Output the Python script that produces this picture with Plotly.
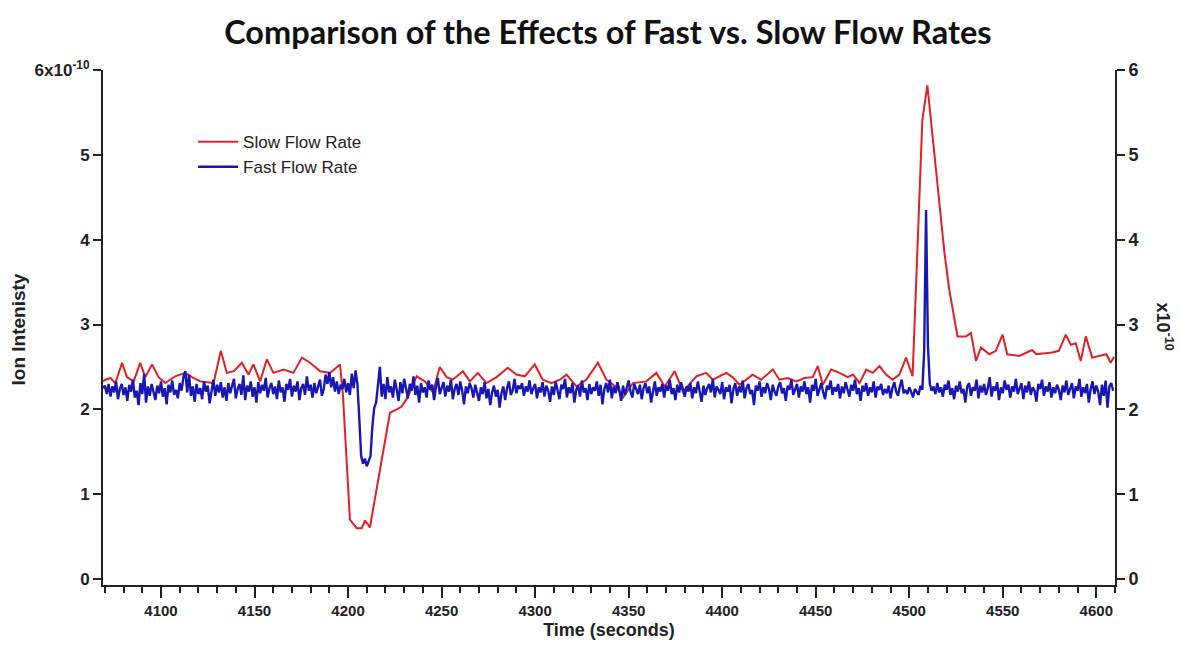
import numpy as np
import plotly.graph_objects as go

# ---------------- data ----------------
slow_time = [4069, 4070.3, 4073, 4075.6, 4079.2, 4081.8, 4085.4, 4088.9, 4091.6, 4095.2,
             4098.7, 4102.3, 4107.6, 4113, 4116.6, 4121, 4128.1, 4132, 4135.2, 4139,
             4143.2, 4146.8, 4149.4, 4153, 4156.6, 4160.1, 4165.5, 4170.8, 4175.3, 4179.7,
             4185.1, 4190.4, 4195.7, 4197.3, 4201, 4204.6, 4207.3, 4209.1, 4211.7, 4217.1,
             4222.4, 4226, 4228.5, 4231.3, 4236.7, 4241.1, 4245.4, 4249, 4252.7, 4256,
             4261.4, 4265.1, 4269.4, 4274, 4279.4, 4285.4, 4290, 4294.5, 4299.8, 4304.1,
             4308.8, 4313.2, 4316.8, 4322.1, 4327.4, 4333.6, 4338.1, 4343.5, 4347, 4352.3,
             4359.5, 4364.8, 4369.3, 4374.6, 4379, 4386.2, 4391.5, 4394.9, 4402.2, 4405.5,
             4409.3, 4416.2, 4420.9, 4427.1, 4430.6, 4435, 4439.6, 4444, 4448.4, 4451.1,
             4453.8, 4458.3, 4462.7, 4467.1, 4470, 4473.4, 4477, 4480.5, 4484.1, 4487.6,
             4491.1, 4494.7, 4498.3, 4501.8, 4504.5, 4507, 4509.7, 4513.4, 4516, 4518.8,
             4521.4, 4524, 4525.8, 4530.3, 4533, 4535.7, 4538.3, 4542.8, 4546.3, 4549.9,
             4552.4, 4558.8, 4565.7, 4568, 4576.4, 4580, 4583.7, 4586.4, 4589, 4591.7,
             4594.4, 4597.8, 4605.4, 4607.7, 4609.5]
slow_flow = [2.33, 2.35, 2.37, 2.31, 2.55, 2.38, 2.33, 2.55, 2.38, 2.53,
             2.38, 2.31, 2.39, 2.43, 2.38, 2.33, 2.31, 2.69, 2.43, 2.45,
             2.55, 2.41, 2.53, 2.33, 2.59, 2.43, 2.47, 2.43, 2.61, 2.55,
             2.45, 2.43, 2.53, 2.16, 0.70, 0.60, 0.60, 0.69, 0.61, 1.29,
             1.96, 2.00, 2.03, 2.12, 2.39, 2.33, 2.20, 2.50, 2.38, 2.35,
             2.45, 2.33, 2.43, 2.31, 2.38, 2.49, 2.41, 2.39, 2.53, 2.35,
             2.31, 2.35, 2.41, 2.27, 2.35, 2.55, 2.35, 2.26, 2.14, 2.31,
             2.33, 2.43, 2.27, 2.45, 2.21, 2.39, 2.43, 2.35, 2.43, 2.38,
             2.29, 2.41, 2.35, 2.47, 2.35, 2.37, 2.33, 2.37, 2.38, 2.51,
             2.29, 2.47, 2.43, 2.38, 2.41, 2.31, 2.47, 2.43, 2.51, 2.41,
             2.35, 2.41, 2.61, 2.39, 3.90, 5.41, 5.82, 5.02, 4.43, 3.85,
             3.41, 3.09, 2.86, 2.86, 2.90, 2.57, 2.73, 2.65, 2.69, 2.88,
             2.65, 2.63, 2.70, 2.65, 2.67, 2.69, 2.88, 2.76, 2.78, 2.57,
             2.86, 2.61, 2.65, 2.55, 2.62]

fast_start = 4069  # first sample time (s), one sample per second
fast_flow = [
    2.25, 2.28, 2.18, 2.30, 2.15, 2.27, 2.20, 2.33, 2.12, 2.24,
    2.30, 2.17, 2.26, 2.10, 2.29, 2.21, 2.35, 2.14, 2.22, 2.05,
    2.31, 2.18, 2.42, 2.08, 2.27, 2.16, 2.30, 2.22, 2.11, 2.28,
    2.19, 2.33, 2.15, 2.25, 2.06, 2.29, 2.20, 2.34, 2.17, 2.23,
    2.13, 2.31, 2.22, 2.38, 2.45, 2.20, 2.41, 2.16, 2.27, 2.09,
    2.30, 2.18, 2.25, 2.12, 2.33, 2.21, 2.28, 2.07, 2.24, 2.35,
    2.16, 2.29, 2.20, 2.32, 2.14, 2.26, 2.10, 2.31, 2.19, 2.27,
    2.36, 2.13, 2.24, 2.30, 2.17, 2.40, 2.11, 2.28, 2.21, 2.33,
    2.15, 2.26, 2.08, 2.32, 2.19, 2.29, 2.22, 2.37, 2.14, 2.25,
    2.31, 2.18, 2.27, 2.12, 2.34, 2.20, 2.26, 2.09, 2.30, 2.23,
    2.36, 2.15, 2.28, 2.21, 2.33, 2.11, 2.25, 2.30, 2.17, 2.39,
    2.22, 2.29, 2.14, 2.31, 2.19, 2.27, 2.35, 2.16, 2.24, 2.41,
    2.30, 2.44, 2.26, 2.38, 2.21, 2.33, 2.18, 2.29, 2.24, 2.36,
    2.20, 2.31, 2.17, 2.42, 2.25, 2.46, 2.30, 1.90, 1.45, 1.36,
    1.42, 1.33, 1.38, 1.45, 1.80, 2.02, 2.08, 2.26, 2.50, 2.15,
    2.30, 2.12, 2.38, 2.20, 2.27, 2.14, 2.35, 2.23, 2.10, 2.32,
    2.19, 2.36, 2.25, 2.13, 2.30, 2.22, 2.39, 2.17, 2.28, 2.08,
    2.31, 2.20, 2.26, 2.14, 2.34, 2.23, 2.29, 2.11, 2.27, 2.37,
    2.18, 2.25, 2.32, 2.15, 2.28, 2.21, 2.35, 2.12, 2.24, 2.30,
    2.17, 2.33, 2.22, 2.06, 2.27, 2.19, 2.31, 2.25, 2.14, 2.29,
    2.21, 2.10, 2.26, 2.18, 2.32, 2.13, 2.24, 2.05, 2.20, 2.28,
    2.15, 2.23, 2.02, 2.19, 2.27, 2.11, 2.25, 2.33, 2.17, 2.22,
    2.36, 2.19, 2.28, 2.24, 2.31, 2.16, 2.27, 2.21, 2.34, 2.18,
    2.25, 2.30, 2.13, 2.26, 2.20, 2.32, 2.15, 2.28, 2.22, 2.09,
    2.27, 2.17, 2.33, 2.21, 2.12, 2.29, 2.24, 2.36, 2.14, 2.26,
    2.19, 2.31, 2.08, 2.23, 2.28, 2.15, 2.34, 2.20, 2.25, 2.11,
    2.30, 2.18, 2.26, 2.22, 2.33, 2.16, 2.29, 2.06, 2.24, 2.31,
    2.20, 2.35, 2.13, 2.27, 2.19, 2.32, 2.23, 2.10, 2.28, 2.17,
    2.26, 2.34, 2.21, 2.14, 2.30, 2.24, 2.18, 2.29, 2.12, 2.25,
    2.31, 2.19, 2.27, 2.08, 2.23, 2.33, 2.16, 2.26, 2.21, 2.30,
    2.14, 2.28, 2.22, 2.35, 2.18, 2.25, 2.11, 2.29, 2.20, 2.32,
    2.24, 2.15, 2.27, 2.21, 2.31, 2.13, 2.26, 2.19, 2.33, 2.22,
    2.09, 2.28, 2.17, 2.25, 2.30, 2.20, 2.36, 2.14, 2.27, 2.23,
    2.18, 2.32, 2.12, 2.26, 2.21, 2.29, 2.07, 2.24, 2.31, 2.16,
    2.27, 2.20, 2.34, 2.13, 2.25, 2.30, 2.18, 2.23, 2.05, 2.28,
    2.22, 2.33, 2.15, 2.26, 2.19, 2.31, 2.24, 2.11, 2.29, 2.21,
    2.16, 2.27, 2.32, 2.19, 2.25, 2.10, 2.28, 2.23, 2.35, 2.17,
    2.24, 2.30, 2.14, 2.27, 2.21, 2.33, 2.18, 2.26, 2.08, 2.29,
    2.22, 2.36, 2.16, 2.25, 2.31, 2.20, 2.12, 2.28, 2.23, 2.34,
    2.17, 2.26, 2.21, 2.30, 2.13, 2.27, 2.19, 2.32, 2.24, 2.15,
    2.29, 2.22, 2.35, 2.18, 2.25, 2.10, 2.28, 2.21, 2.31, 2.16,
    2.26, 2.20, 2.33, 2.14, 2.27, 2.23, 2.30, 2.17, 2.24, 2.19,
    2.28, 2.13, 2.25, 2.32, 2.21, 2.16, 2.27, 2.35, 2.19, 2.23,
    2.18, 2.26, 2.21, 2.14, 2.24, 2.20, 2.17, 2.28, 2.23, 2.70,
    4.35, 2.75, 2.30, 2.22, 2.27, 2.18, 2.31, 2.20, 2.26, 2.15,
    2.29, 2.23, 2.34, 2.17, 2.25, 2.12, 2.28, 2.21, 2.33, 2.19,
    2.24, 2.08, 2.27, 2.31, 2.16, 2.26, 2.22, 2.35, 2.13, 2.28,
    2.20, 2.30, 2.17, 2.25, 2.38, 2.15, 2.27, 2.22, 2.32, 2.11,
    2.26, 2.19, 2.34, 2.23, 2.29, 2.14, 2.27, 2.21, 2.36, 2.18,
    2.25, 2.31, 2.12, 2.28, 2.20, 2.33, 2.17, 2.26, 2.22, 2.09,
    2.30, 2.24, 2.35, 2.16, 2.27, 2.21, 2.32, 2.14, 2.26, 2.19,
    2.29, 2.23, 2.11, 2.28, 2.20, 2.34, 2.17, 2.25, 2.31, 2.13,
    2.27, 2.22, 2.36, 2.15, 2.26, 2.19, 2.30, 2.08, 2.24, 2.33,
    2.18, 2.28, 2.21, 2.05, 2.29, 2.16, 2.34, 2.02, 2.27, 2.31,
    2.22,
]
fast_time = np.arange(fast_start, fast_start + len(fast_flow))

y_tick_vals = [0, 1, 2, 3, 4, 5, 6]
y_left_text = ["0", "1", "2", "3", "4", "5", "6x10<sup>-10</sup>"]
y_right_text = ["0", "1", "2", "3", "4", "5", "6"]
x_tick_vals = [4100, 4150, 4200, 4250, 4300, 4350, 4400, 4450, 4500, 4550, 4600]

# ---------------- style ----------------
RED = "#e31f26"
BLUE = "#1717b3"
INK = "#222222"
FONT = "Liberation Sans"

fig = go.Figure()
fig.add_trace(go.Scatter(x=slow_time, y=slow_flow, mode="lines", name="Slow Flow Rate",
                         line=dict(color=RED, width=2)))
fig.add_trace(go.Scatter(x=fast_time, y=fast_flow, mode="lines", name="Fast Flow Rate",
                         line=dict(color=BLUE, width=2.4), yaxis="y2"))

yrange = [-0.07, 6]

fig.update_layout(
    width=1178, height=648,
    margin=dict(l=103, r=63, t=70, b=63),
    paper_bgcolor="white", plot_bgcolor="white",
    showlegend=True,
    legend=dict(x=0.089, y=0.895, xanchor="left", yanchor="top",
                bgcolor="rgba(0,0,0,0)", font=dict(family=FONT, size=17, color=INK),
                itemwidth=40, tracegroupgap=0),
    title=dict(text="<b>Comparison of the Effects of Fast vs. Slow Flow Rates</b>",
               x=0.516, xanchor="center", y=0.95, yanchor="middle",
               font=dict(family="Lato", size=32.5, color="#111111")),
    xaxis=dict(range=[4069, 4610], tickvals=x_tick_vals, showgrid=False, zeroline=False,
               showline=True, linecolor=INK, linewidth=2, ticks="outside", ticklen=11,
               tickwidth=2, tickcolor=INK,
               tickfont=dict(family=FONT, size=15, color=INK, weight="bold"),
               minor=dict(dtick=10, tick0=4000, ticks="outside", ticklen=6, tickwidth=2,
                          tickcolor=INK, showgrid=False),
               title=dict(text="<b>Time (seconds)</b>", standoff=5,
                          font=dict(family=FONT, size=18, color=INK))),
    yaxis=dict(range=yrange, tickvals=y_tick_vals, ticktext=y_left_text, showgrid=False,
               zeroline=False, showline=True, linecolor=INK, linewidth=2, ticks="outside",
               ticklen=8, tickwidth=2, tickcolor=INK,
               tickfont=dict(family=FONT, size=17, color=INK, weight="bold")),
    yaxis2=dict(range=yrange, tickvals=y_tick_vals, ticktext=y_right_text, overlaying="y",
                side="right", showgrid=False, zeroline=False, showline=True, linecolor=INK,
                linewidth=2, ticks="outside", ticklen=8, tickwidth=2, tickcolor=INK,
                tickfont=dict(family=FONT, size=18, color=INK, weight="bold")),
    annotations=[
        dict(text="<b>Ion Intenisty</b>", x=5, y=330, xref="paper", yref="paper",
             showarrow=False, textangle=-90, font=dict(family=FONT, size=19, color=INK)),
        dict(text="<b>x10<sup>-10</sup></b>", x=1178, y=326, xref="paper", yref="paper",
             showarrow=False, textangle=90, font=dict(family=FONT, size=18, color=INK)),
    ],
)
# convert pixel positions for annotations into paper coords
pw = 1178 - 103 - 63
ph = 648 - 70 - 63
anns = list(fig.layout.annotations)
for a in anns:
    a.x = (a.x - 103) / pw
    a.y = (648 - 63 - a.y) / ph
fig.layout.annotations = anns

fig.write_html("out.html")
